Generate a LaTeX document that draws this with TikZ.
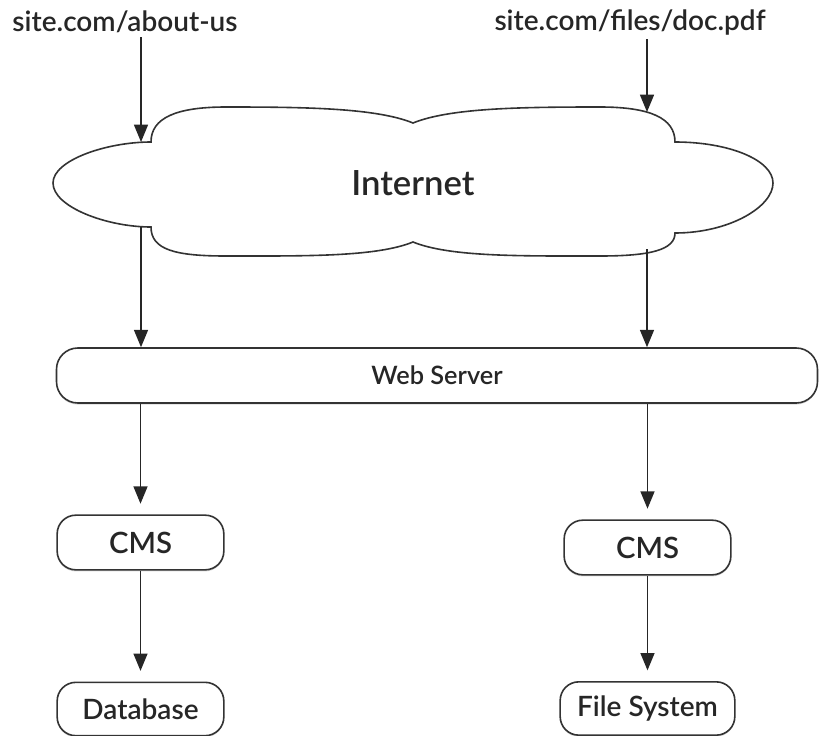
\documentclass[tikz,border=0pt]{standalone}
\usepackage{fontspec}
\setmainfont{Lato Semibold}
\usetikzlibrary{arrows.meta,shadows}

\tikzset{
  flow/.style={draw=black!85, line width=1.1pt, -{Triangle[length=13pt,width=10.5pt]}},
  pill/.style={draw=black!80, line width=1.2pt, rounded corners=14pt, fill=white, inner sep=0pt,
    text=black!85, font=\fontsize{21}{25}\selectfont,
    drop shadow={opacity=.3, shadow xshift=0pt, shadow yshift=-1.2pt}},
  url/.style={inner sep=3pt, text=black!85, font=\fontsize{21}{25}\selectfont},
}

\begin{document}
\begin{tikzpicture}[x=0.75pt,y=0.75pt,yscale=-1,xscale=1]
\useasboundingbox (0,0) rectangle (819,736);

%Shape: Cloud
\draw [draw=black!80, line width=1.2pt, fill=white] (53,183) .. controls (53,160) and (107,142) .. (151,142)
  .. controls (151,118) and (176,107) .. (226,107) .. controls (306,107) and (376,108) .. (413,123)
  .. controls (450,108) and (520,107) .. (600,107) .. controls (650,107) and (675,118) .. (675,142)
  .. controls (729,142) and (773,160) .. (773,183)
  .. controls (773,207) and (729,233) .. (675,233)
  .. controls (675,250) and (650,256) .. (600,256) .. controls (520,256) and (450,257) .. (413,242)
  .. controls (376,257) and (306,256) .. (226,256) .. controls (176,256) and (151,250) .. (151,227)
  .. controls (107,227) and (53,207) .. (53,183) -- cycle ;
\coordinate (inNW) at (141,142);
\coordinate (inNE) at (647,112);
\coordinate (inSW) at (141,227);
\coordinate (inSE) at (647,249);

% Text Node
\node (inet) at (413,183) [font=\fontsize{26}{30}\selectfont, text=black!85] {Internet};
% Text Node
\node [url] (urlA) at (125,22) {site.com/about-us};
% Text Node
\node [url] (urlB) at (630,22) {site.com/files/doc.pdf};

% Boxes
\node [pill, minimum width=570.75pt, minimum height=41.25pt, rounded corners=16pt,
  font=\fontsize{19}{23}\selectfont] (web) at (437,375.5) {Web Server};
\node [pill, minimum width=125pt, minimum height=41pt, font=\fontsize{22}{26}\selectfont] (cmsA) at (140.5,542.5) {CMS};
\node [pill, minimum width=125pt, minimum height=41pt, font=\fontsize{22}{26}\selectfont] (cmsB) at (647.5,547.5) {CMS};
\node [pill, minimum width=125pt, minimum height=40pt] (db) at (140.5,709) {Database};
\node [pill, minimum width=131pt, minimum height=40pt] (fs) at (647.5,708.5) {File System};

%Straight Lines
\draw [flow] (urlA.south -| inNW) -- (inNW) ;
\draw [flow] (urlB.south -| inNE) -- (inNE) ;
\draw [flow] (inSW) -- (inSW |- web.north) ;
\draw [flow] (inSE) -- (inSE |- web.north) ;
\draw [flow, shorten >=8pt] (cmsA |- web.south) -- (cmsA) ;
\draw [flow, shorten >=8pt] (cmsB |- web.south) -- (cmsB) ;
\draw [flow, shorten >=8pt] (cmsA) -- (db) ;
\draw [flow, shorten >=8pt] (cmsB) -- (fs) ;

\end{tikzpicture}
\end{document}
